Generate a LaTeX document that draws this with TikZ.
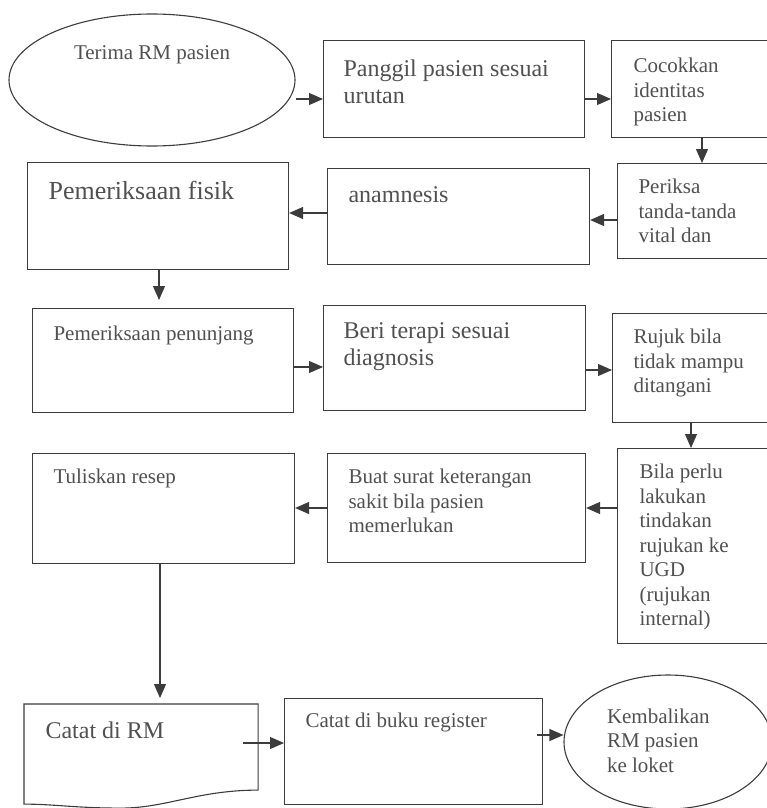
\documentclass[tikz,border=0pt]{standalone}
\usepackage{fontspec}
\setmainfont{Liberation Serif}
\usetikzlibrary{shapes.geometric,arrows.meta,calc}
\definecolor{garis}{HTML}{3C3C3C}
\definecolor{tulisan}{HTML}{505050}
% parbox: lebar, tinggi, jarak atas, teks
\newcommand{\isi}[4]{\parbox[t][#2pt][t]{#1pt}{\raggedright\vspace*{#3pt}#4}}

\begin{document}
\begin{tikzpicture}[x=1pt, y=-1pt,
  kotak/.style={draw=garis, line width=1.1pt, anchor=north west, inner xsep=#1, inner ysep=0pt, text=tulisan},
  kotak/.default=21pt,
  elips/.style={ellipse, draw=garis, line width=1.1pt, inner sep=0pt, text=tulisan},
  huruf/.style={font=\fontsize{21}{24.5}\selectfont},
  hurufb/.style={font=\fontsize{24}{27}\selectfont},
  panah/.style={draw=garis, line width=1.1pt, -{Triangle[length=14pt,width=12pt]}}]
  \useasboundingbox (0,0) rectangle (767,808);
  \clip (0,0) rectangle (767,808);
  % Baris pertama
  \node[elips, huruf, minimum width=286pt, minimum height=132pt] (terima) at (152,80) {\isi{190}{80}{5.5}{\centering Terima RM pasien}};
  \node[kotak=20pt, hurufb] (panggil) at (323,40) {\isi{221}{97}{19.6}{Panggil pasien sesuai\\ urutan}};
  \node[kotak=22pt, huruf] (cocokkan) at (611,40) {\isi{120}{97}{17.7}{Cocokkan\\ identitas\\ pasien}};
  % Baris kedua
  \node[kotak, huruf] (periksa) at (617,163) {\isi{116}{95}{15.7}{Periksa\\ tanda-tanda\\ vital dan}};
  \node[kotak, hurufb] (anamnesis) at (327,168) {\isi{220}{96}{17.6}{anamnesis}};
  \node[kotak, font=\fontsize{26}{30}\selectfont] (fisik) at (27,162) {\isi{219}{107}{18.2}{Pemeriksaan fisik}};
  % Baris ketiga
  \node[kotak, huruf] (penunjang) at (32,308) {\isi{219}{104}{17.7}{Pemeriksaan penunjang}};
  \node[kotak=20pt, hurufb] (terapi) at (323,305) {\isi{222}{105}{16.6}{Beri terapi sesuai\\ diagnosis}};
  \node[kotak, huruf] (rujuk) at (612,313) {\isi{121}{109}{15.7}{Rujuk bila\\ tidak mampu\\ ditangani}};
  % Baris keempat
  \node[kotak=22pt, huruf] (bila) at (617,448) {\isi{114}{195}{15.7}{Bila perlu\\ lakukan\\ tindakan\\ rujukan ke\\ UGD\\ (rujukan\\ internal)}};
  \node[kotak, huruf] (surat) at (327,453) {\isi{216}{109}{15.7}{Buat surat keterangan\\ sakit bila pasien\\ memerlukan}};
  \node[kotak, huruf] (resep) at (32,453) {\isi{220}{110}{15.7}{Tuliskan resep}};
  % Baris terakhir
  \node[kotak, draw=none, hurufb] (catat) at (24,704) {\isi{191}{101}{17.6}{Catat di RM}};
  \draw[draw=garis, line width=1.1pt] ($(catat.south west)+(0,-2)$) -- (catat.north west) -- (catat.north east)
    -- ($(catat.south east)+(0,-16)$) .. controls +(-60,0) and +(45,0) .. ($(catat.south)+(-20,2)$)
    .. controls +(-45,0) and +(30,0) .. ($(catat.south west)+(0,-2)$) -- cycle;
  \node[kotak, huruf] (buku) at (284,698) {\isi{216}{106}{14.7}{Catat di buku register}};
  \node[elips, huruf, minimum width=208pt, minimum height=134pt] (kembali) at (668,742) {\isi{122}{80}{6.7}{Kembalikan\\ RM pasien\\ ke loket}};
  % Panah
  \coordinate (k1) at (0,99);
  \draw[panah] (terima.east |- k1) -- (panggil.west |- k1);
  \draw[panah] (panggil.east |- k1) -- (cocokkan.west |- k1);
  \coordinate (k2) at (702,0);
  \draw[panah] (cocokkan.south -| k2) -- (periksa.north -| k2);
  \coordinate (k3) at (0,220);
  \draw[panah] (periksa.west |- k3) -- (anamnesis.east |- k3);
  \coordinate (k4) at (0,213);
  \draw[panah] (anamnesis.west |- k4) -- (fisik.east |- k4);
  \coordinate (k5) at (159,0);
  \draw[panah, shorten >=8pt] (fisik.south -| k5) -- (penunjang.north -| k5);
  \coordinate (k6) at (0,367);
  \draw[panah] (penunjang.east |- k6) -- (terapi.west |- k6);
  \coordinate (k7) at (0,370);
  \draw[panah] (terapi.east |- k7) -- (rujuk.west |- k7);
  \coordinate (k8) at (691,0);
  \draw[panah] (rujuk.south -| k8) -- (bila.north -| k8);
  \coordinate (k9) at (0,508);
  \draw[panah] (bila.west |- k9) -- (surat.east |- k9);
  \draw[panah] (surat.west |- k9) -- (resep.east |- k9);
  \coordinate (k10) at (160,0);
  \draw[panah, shorten >=6pt] (resep.south -| k10) -- (catat.north -| k10);
  \coordinate (k11) at (243,743);
  \draw[panah] (k11) -- (buku.west |- k11);
  \coordinate (k12) at (537,735);
  \draw[panah] (k12) -- (kembali.west |- k12);
\end{tikzpicture}
\end{document}
